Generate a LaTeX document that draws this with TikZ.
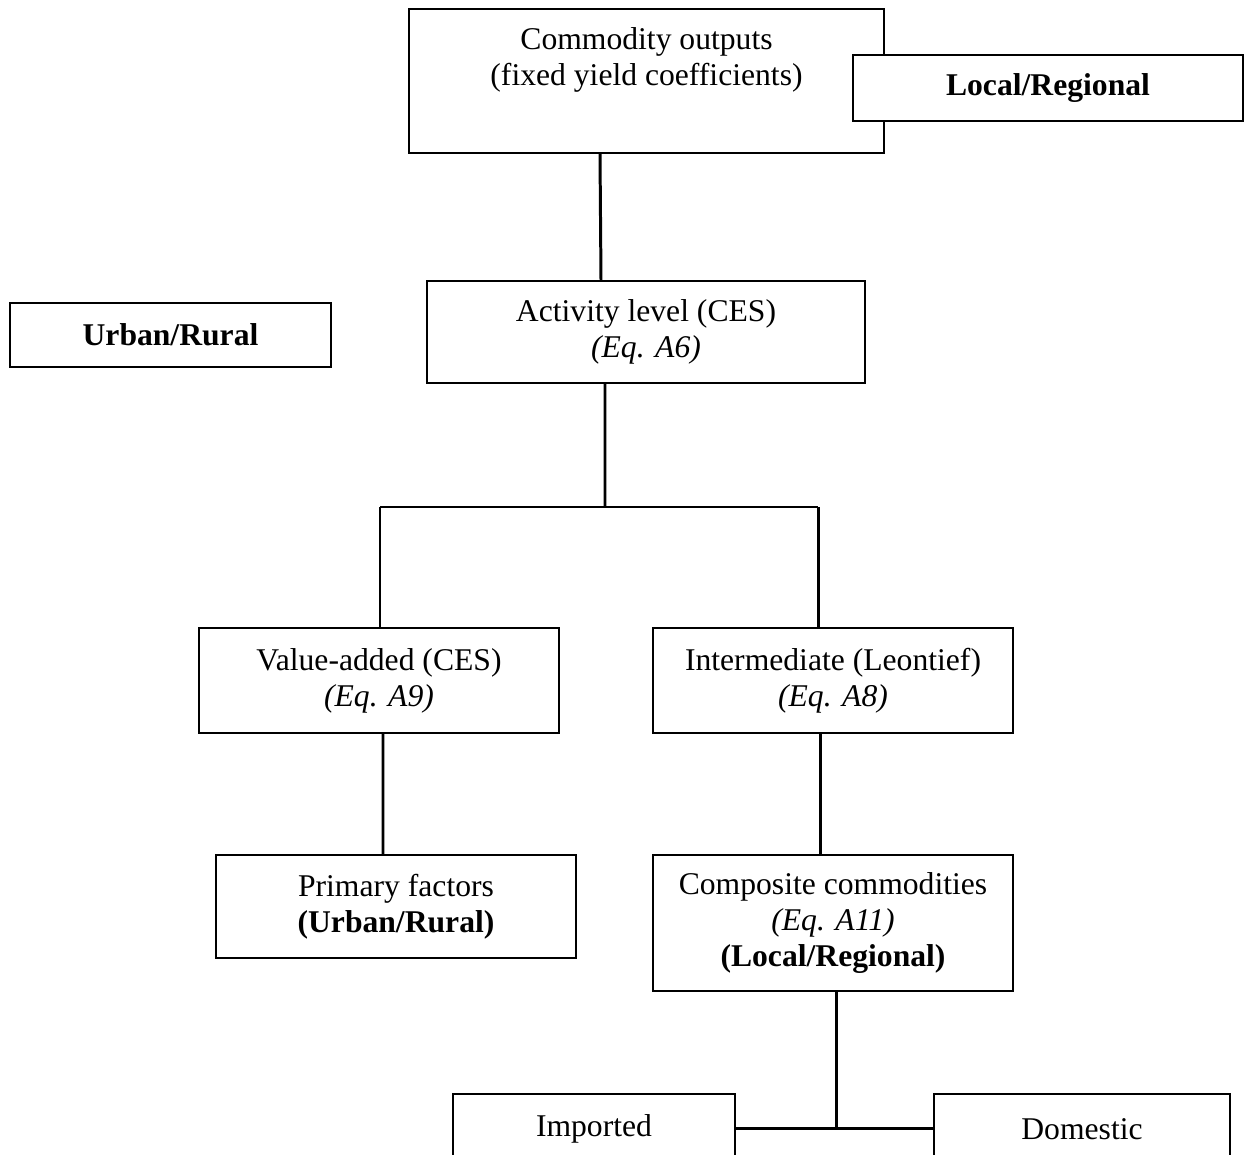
\documentclass[tikz,border=0pt]{standalone}
\usepackage{fontspec}
\setmainfont{Liberation Serif}
\usepackage{tikz}
\usetikzlibrary{positioning}

\begin{document}
\begin{tikzpicture}[
    box/.style={draw=black,line width=1.1pt,fill=white,rectangle,align=center,inner sep=0pt},
    txt/.style={align=center,inner sep=0pt},
    link/.style={draw=black,line width=1.7pt},
    font=\fontsize{18}{20.5}\selectfont]
    \useasboundingbox (0,0) rectangle (24.9,-23.1);
    % top row
    \node[box,minimum width=9.5cm,minimum height=2.88cm] (com) at (12.93,-1.62) {};
    \node[txt,below=0.38cm of com.north] (comtxt) {Commodity outputs\\(fixed yield coefficients)};
    \node[box,minimum width=7.8cm,minimum height=1.32cm] (loc) at (20.96,-1.76) {\textbf{Local/Regional}};
    \node[box,minimum width=6.42cm,minimum height=1.28cm] (urb) at (3.41,-6.7) {\textbf{Urban/Rural}};
    \node[box,minimum width=8.76cm,minimum height=2.04cm] (act) at (12.92,-6.64) {Activity level (CES)\\\textit{(Eq. A6)}};
    % nests
    \node[box,minimum width=7.2cm,minimum height=2.1cm] (va) at (7.58,-13.61) {Value-added (CES)\\\textit{(Eq. A9)}};
    \node[box,minimum width=7.2cm,minimum height=2.1cm] (int) at (16.66,-13.61) {Intermediate (Leontief)\\\textit{(Eq. A8)}};
    \node[box,minimum width=7.2cm,minimum height=2.06cm] (prim) at (7.92,-18.13) {Primary factors\\\textbf{(Urban/Rural)}};
    \node[box,minimum width=7.2cm,minimum height=2.72cm] (comp) at (16.66,-18.46) {Composite commodities\\\textit{(Eq. A11)}\\\textbf{(Local/Regional)}};
    \node[box,anchor=north,minimum width=5.64cm,minimum height=1.4cm] (imp) at (11.88,-21.86) {Imported};
    \node[box,anchor=north,minimum width=5.92cm,minimum height=1.4cm] (dom) at (21.64,-21.86) {Domestic};
    % connectors
    \coordinate (split) at (12.1,-10.14);
    \coordinate (jL) at (7.6,-10.14);
    \coordinate (jR) at (16.36,-10.14);
    \draw[link] ([xshift=-0.93cm]com.south) -- ([xshift=-0.9cm]act.north);
    \draw[link] ([xshift=-0.82cm]act.south) -- (split);
    \draw[link] (jL) -- (jR);
    \draw[link] (jL) -- (jL |- va.north);
    \draw[link] (jR) -- (jR |- int.north);
    \draw[link] ([xshift=0.08cm]va.south) -- ([xshift=-0.26cm]prim.north);
    \draw[link] ([xshift=-0.26cm]int.south) -- ([xshift=-0.26cm]comp.north);
    \draw[link] ([xshift=0.06cm]comp.south) -- ([xshift=0.06cm]comp.south |- imp.east);
    \draw[link] (imp.east) -- (dom.west);
\end{tikzpicture}
\end{document}
